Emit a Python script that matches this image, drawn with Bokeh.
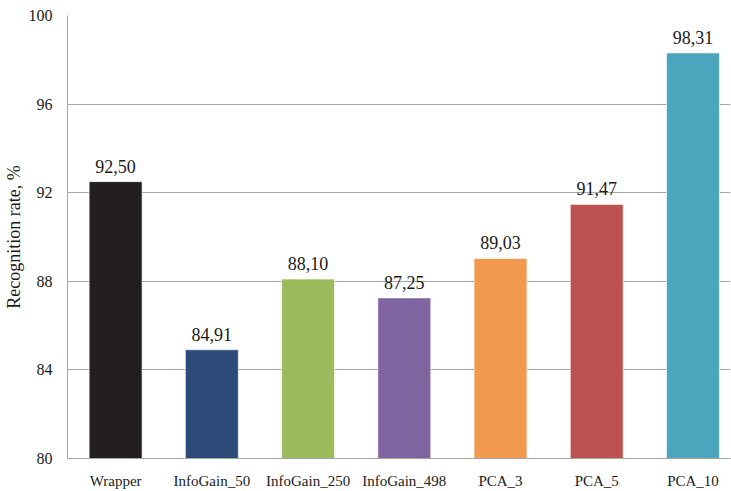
from bokeh.plotting import figure
from bokeh.models import ColumnDataSource, LabelSet, Range1d, FixedTicker
from bokeh.embed import file_html
from bokeh.resources import INLINE

# Recognition rate per feature-selection method
methods = ["Wrapper", "InfoGain_50", "InfoGain_250", "InfoGain_498", "PCA_3", "PCA_5", "PCA_10"]
rates = [92.50, 84.91, 88.10, 87.25, 89.03, 91.47, 98.31]
colors = ["#231f20", "#2c4b78", "#9bbb5d", "#8064a0", "#f0994f", "#bc5250", "#4ba6be"]
y_ticks = [80, 84, 88, 92, 96, 100]

# each category occupies one unit slot; bars sit in the middle of the slot
slot = [i + 0.5 for i in range(len(methods))]
labels = [f"{r:.2f}".replace(".", ",") for r in rates]
source = ColumnDataSource(dict(x=slot, rate=rates, color=colors, label=labels))

FONT = "Liberation Serif"
GRID = "#a6a6a6"
TEXT = "#1a1a1a"

p = figure(
    x_range=Range1d(0, 6.89),
    y_range=Range1d(80, 100),
    width=731, height=491,
    output_backend="svg", toolbar_location=None,
    min_border_left=67, min_border_right=1, min_border_top=15, min_border_bottom=20,
)
p.outline_line_color = None
p.background_fill_color = "white"
p.border_fill_color = "white"

p.vbar(x="x", top="rate", bottom=80, width=0.55, source=source,
       fill_color="color", line_color="white", line_alpha=0.6, line_width=1)

# value labels above each bar
p.add_layout(LabelSet(x="x", y="rate", text="label", source=source,
                      text_align="center", text_baseline="alphabetic", y_offset=9,
                      text_font=FONT, text_font_size="18px", text_color=TEXT))

# y axis
p.yaxis.ticker = FixedTicker(ticks=y_ticks)
p.yaxis.axis_label = "Recognition rate, %"
p.yaxis.axis_label_text_font = FONT
p.yaxis.axis_label_text_font_style = "normal"
p.yaxis.axis_label_text_font_size = "18px"
p.yaxis.axis_label_text_color = TEXT
p.yaxis.axis_label_standoff = 2
p.yaxis.major_label_text_font = FONT
p.yaxis.major_label_text_font_size = "16px"
p.yaxis.major_label_text_color = TEXT
p.yaxis.major_label_standoff = 15
p.yaxis.major_tick_out = 0
p.yaxis.major_tick_in = 0
p.yaxis.minor_tick_out = 0
p.yaxis.minor_tick_in = 0
p.yaxis.axis_line_color = GRID

# x axis with category names at slot centres
p.xaxis.ticker = FixedTicker(ticks=slot)
p.xaxis.major_label_overrides = {x: m for x, m in zip(slot, methods)}
p.xaxis.major_label_text_font = FONT
p.xaxis.major_label_text_font_size = "15px"
p.xaxis.major_label_text_color = TEXT
p.xaxis.major_label_standoff = 14
p.xaxis.major_tick_out = 0
p.xaxis.major_tick_in = 0
p.xaxis.minor_tick_out = 0
p.xaxis.minor_tick_in = 0
p.xaxis.axis_line_color = GRID

p.xgrid.grid_line_color = None
p.ygrid.grid_line_color = GRID
p.ygrid.grid_line_width = 1

open("out.html", "w").write(file_html(p, INLINE))
